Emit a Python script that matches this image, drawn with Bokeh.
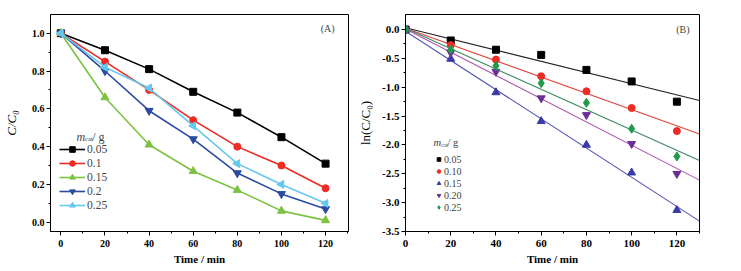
import numpy as np
from bokeh.plotting import figure
from bokeh.layouts import row
from bokeh.models import Legend, LegendItem, Label, FixedTicker, NumeralTickFormatter
from bokeh.embed import file_html
from bokeh.resources import INLINE

# ---------------- data ----------------
time_min = [0, 20, 40, 60, 80, 100, 120]

labels_A = ["0.05", "0.1", "0.15", "0.2", "0.25"]
cc0_005 = [1.00, 0.91, 0.81, 0.69, 0.58, 0.45, 0.31]
cc0_010 = [1.00, 0.85, 0.70, 0.54, 0.40, 0.30, 0.18]
cc0_015 = [1.00, 0.66, 0.41, 0.27, 0.17, 0.06, 0.01]
cc0_020 = [1.00, 0.80, 0.59, 0.44, 0.26, 0.15, 0.07]
cc0_025 = [1.00, 0.82, 0.71, 0.51, 0.31, 0.20, 0.10]

labels_B = ["0.05", "0.10", "0.15", "0.20", "0.25"]
ln_005 = [0.00, -0.19, -0.35, -0.44, -0.70, -0.90, -1.25]
ln_010 = [0.00, -0.27, -0.52, -0.81, -1.07, -1.36, -1.76]
ln_015 = [0.00, -0.51, -1.09, -1.59, -2.00, -2.48, -3.13]
ln_020 = [0.00, -0.40, -0.73, -1.19, -1.48, -1.98, -2.50]
ln_025 = [0.00, -0.35, -0.63, -0.93, -1.27, -1.72, -2.20]

fit_t = [0, 130]
fit_005 = [0.03, -1.23]
fit_010 = [0.02, -1.81]
fit_015 = [-0.03, -3.32]
fit_020 = [0.01, -2.61]
fit_025 = [0.02, -2.27]

FONT = "Liberation Serif"


def style_axes(p, tick_size):
    for ax in (p.xaxis[0], p.yaxis[0]):
        ax.axis_line_color = "black"
        ax.axis_line_width = 1
        ax.major_tick_in = 0
        ax.major_tick_out = 4
        ax.minor_tick_in = 0
        ax.minor_tick_out = 2
        ax.major_tick_line_color = "black"
        ax.minor_tick_line_color = "black"
        ax.major_label_text_font = FONT
        ax.major_label_text_font_style = "bold"
        ax.major_label_text_font_size = tick_size
        ax.major_label_text_color = "black"
        ax.axis_label_text_font = FONT
        ax.axis_label_text_color = "black"
    p.xaxis.axis_label_text_font_style = "bold"
    p.xaxis.axis_label_text_font_size = "11px"
    p.xaxis.major_label_standoff = 4
    p.xaxis.axis_label_standoff = 3
    p.yaxis.major_label_standoff = 2
    p.yaxis.formatter = NumeralTickFormatter(format="0.0")
    p.xgrid.visible = False
    p.ygrid.visible = False
    p.outline_line_color = "black"
    p.outline_line_width = 1
    p.outline_line_alpha = 1


# ---------------- panel A ----------------
pA = figure(frame_width=298, frame_height=217, x_range=(-4.7, 130.4), y_range=(-0.049, 1.099),
            output_backend="svg", toolbar_location=None,
            min_border_left=47, min_border_right=7, min_border_top=14, min_border_bottom=34,
            background_fill_color="white", border_fill_color="white")
style_axes(pA, "10px")
pA.xaxis.ticker = FixedTicker(ticks=[0, 20, 40, 60, 80, 100, 120],
                              minor_ticks=[10, 30, 50, 70, 90, 110, 130])
pA.yaxis.ticker = FixedTicker(ticks=[0.0, 0.2, 0.4, 0.6, 0.8, 1.0],
                              minor_ticks=[0.1, 0.3, 0.5, 0.7, 0.9])
pA.xaxis.axis_label = "Time / min"
pA.yaxis.axis_label = "C/C\u2080"
pA.yaxis.axis_label_text_font_style = "italic"
pA.yaxis.axis_label_text_font_size = "13px"
pA.yaxis.axis_label_standoff = 10

seriesA = [cc0_005, cc0_010, cc0_015, cc0_020, cc0_025]
colorsA = ["#000000", "#ee2b24", "#7dc242", "#2b4ba0", "#67c8ee"]
markersA = ["square", "circle", "triangle", "inverted_triangle", "triangle"]
anglesA = [0, 0, 0, 0, np.pi / 2]
sizesA = [7, 7, 8, 8, 8]
itemsA = []
for vals, col, mk, ang, sz, lab in zip(seriesA, colorsA, markersA, anglesA, sizesA, labels_A):
    lr = pA.line(time_min, vals, line_color=col, line_width=1.6)
    sr = pA.scatter(time_min, vals, marker=mk, angle=ang, size=sz,
                    fill_color=col, line_color=col)
    itemsA.append(LegendItem(label=lab, renderers=[lr, sr]))

legA = Legend(items=itemsA, location=(9, 19), padding=0, margin=0, spacing=0,
              glyph_width=26, glyph_height=14, label_height=14, label_standoff=2,
              label_text_font=FONT, label_text_font_size="11.5px",
              border_line_color=None, background_fill_alpha=0)
pA.add_layout(legA, "center")

pA.add_layout(Label(x=7.1, y=0.452, text="m", text_font=FONT, text_font_style="italic",
                    text_font_size="12px", text_baseline="alphabetic"))
pA.add_layout(Label(x=10.9, y=0.438, text="cat", text_font=FONT,
                    text_font_size="7px", text_baseline="alphabetic"))
pA.add_layout(Label(x=14.2, y=0.452, text="/ g", text_font=FONT,
                    text_font_size="12px", text_baseline="alphabetic"))
pA.add_layout(Label(x=124.1, y=1.025, text="(A)", text_font=FONT, text_font_size="10px",
                    text_align="right", text_baseline="middle"))

# ---------------- panel B ----------------
pB = figure(frame_width=294, frame_height=217, x_range=(0, 130), y_range=(-3.5, 0.26),
            output_backend="svg", toolbar_location=None,
            min_border_left=48, min_border_right=10, min_border_top=14, min_border_bottom=34,
            background_fill_color="white", border_fill_color="white")
style_axes(pB, "11px")
pB.xaxis.ticker = FixedTicker(ticks=[0, 20, 40, 60, 80, 100, 120],
                              minor_ticks=[10, 30, 50, 70, 90, 110, 130])
pB.yaxis.ticker = FixedTicker(ticks=[0.0, -0.5, -1.0, -1.5, -2.0, -2.5, -3.0, -3.5],
                              minor_ticks=[-0.25, -0.75, -1.25, -1.75, -2.25, -2.75, -3.25])
pB.xaxis.axis_label = "Time / min"
pB.yaxis.axis_label = "ln(C/C\u2080)"
pB.yaxis.axis_label_text_font_style = "normal"
pB.yaxis.axis_label_text_font_size = "13px"
pB.yaxis.axis_label_standoff = 6

seriesB = [ln_005, ln_010, ln_015, ln_020, ln_025]
fitsB = [fit_005, fit_010, fit_015, fit_020, fit_025]
colorsB = ["#000000", "#ee2b24", "#3a3aa8", "#6b2e95", "#1f9a4a"]
lineColorsB = ["#222222", "#e0463c", "#5656b4", "#b052b0", "#3e8c62"]
markersB = ["square", "circle", "triangle", "inverted_triangle", "diamond"]
sizesB = [7, 7, 8, 8, 9]
itemsB = []
for vals, fit, col, lcol, mk, sz, lab in zip(seriesB, fitsB, colorsB, lineColorsB, markersB, sizesB, labels_B):
    pB.line(fit_t, fit, line_color=lcol, line_width=1.1)
    sr = pB.scatter(time_min, vals, marker=mk, size=sz, fill_color=col, line_color=col)
    itemsB.append(LegendItem(label=lab, renderers=[sr]))

legB = Legend(items=itemsB, location=(29, 18), padding=0, margin=0, spacing=-1,
              glyph_width=9, glyph_height=12, label_height=12, label_standoff=1,
              label_text_font=FONT, label_text_font_size="10px",
              border_line_color=None, background_fill_alpha=0)
pB.add_layout(legB, "center")

pB.add_layout(Label(x=12.4, y=-1.96, text="m", text_font=FONT, text_font_style="italic",
                    text_font_size="10.5px", text_baseline="alphabetic"))
pB.add_layout(Label(x=15.8, y=-2.0, text="cat", text_font=FONT,
                    text_font_size="6px", text_baseline="alphabetic"))
pB.add_layout(Label(x=18.6, y=-1.96, text="/ g", text_font=FONT,
                    text_font_size="10.5px", text_baseline="alphabetic"))
pB.add_layout(Label(x=125.6, y=0.0, text="(B)", text_font=FONT, text_font_size="10px",
                    text_align="right", text_baseline="middle"))

layout = row(pA, pB)
open("out.html", "w").write(file_html(layout, INLINE))
